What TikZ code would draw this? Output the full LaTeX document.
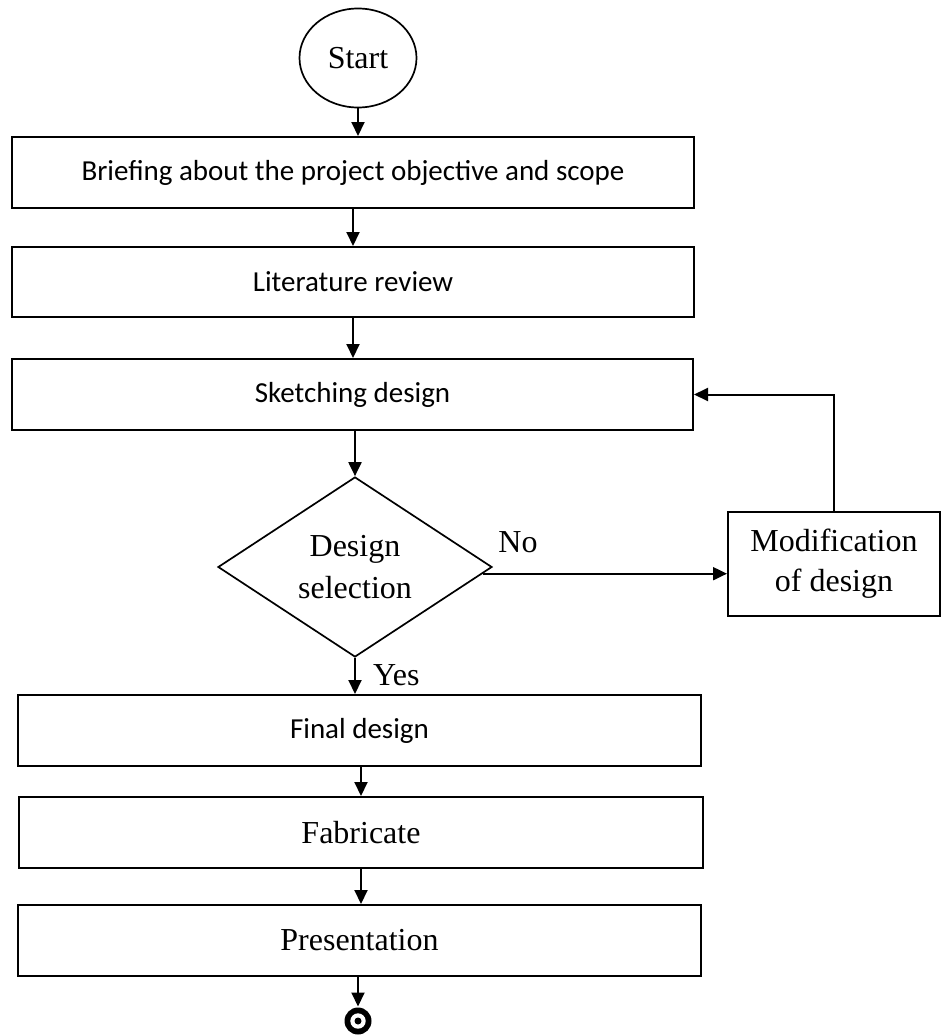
\documentclass[tikz,border=0pt]{standalone}
\usepackage{fontspec}
\setmainfont{Liberation Serif}
\newfontfamily\calibrifont{Carlito}
\usetikzlibrary{shapes.geometric,arrows.meta,calc}
\begin{document}
\begin{tikzpicture}[x=1pt,y=-1pt, line width=2pt,
  box/.style={draw, rectangle, inner sep=0pt, minimum height=71pt},
  cbox/.style={box, font=\calibrifont\fontsize{29}{35}\selectfont},
  tbox/.style={box, font=\fontsize{32}{38}\selectfont},
  arr/.style={-{Triangle[length=14pt,width=13pt]}, line width=2pt},
  lbl/.style={font=\fontsize{32}{38}\selectfont, inner sep=0pt}]
\useasboundingbox (0,0) rectangle (941,1036);
\node[draw, ellipse, minimum width=117pt, minimum height=99pt, inner sep=0pt,
      font=\fontsize{32}{38}\selectfont, line width=1.7pt] (start) at (358,58) {Start};
\node[cbox, minimum width=682pt] (b1) at (353,172.5) {Briefing about the project objective and scope};
\node[cbox, minimum width=682pt, minimum height=70pt] (b2) at (353,282) {Literature review};
\node[cbox, minimum width=681pt] (b3) at (352.5,394.5) {Sketching design};
\node[draw, diamond, minimum width=274pt, minimum height=180pt, inner sep=0pt, line width=1.7pt] (dec) at (355,567) {};
\node[lbl, align=center, font=\fontsize{32}{42}\selectfont] (dectext) at (355,567) {Design\\selection};
\node[box, minimum width=212pt, minimum height=104pt, align=center,
      font=\fontsize{32}{40}\selectfont] (mod) at (834,564) {Modification\\of design};
\node[cbox, minimum width=683pt] (fin) at (359.5,730.5) {Final design};
\node[tbox, minimum width=684pt] (fab) at (361,832.5) {Fabricate};
\node[tbox, minimum width=683pt] (pres) at (359.5,940.5) {Presentation};
\node[circle, fill=black, minimum size=27pt, inner sep=0pt] (end) at (358,1021) {};
\fill[white] (end.center) circle[radius=7.7pt];
\fill[black] (end.center) circle[radius=3.5pt];
\node[lbl] (no) at (518,542) {No};
\node[lbl, anchor=west] (yes) at (372,675) {Yes};
\draw[arr] (start.south) -- (start.south |- b1.north);
\draw[arr] (b1.south) -- (b1.south |- b2.north);
\draw[arr] (b2.south) -- (b2.south |- b3.north);
\draw[arr] (dec.north |- b3.south) -- (dec.north);
\draw[arr] (dec.-3) -- (dec.-3 -| mod.west);
\draw[arr] (mod.north) |- (b3.east);
\draw[arr] (dec.south) -- (dec.south |- fin.north);
\draw[arr] (fab.north |- fin.south) -- (fab.north);
\draw[arr] (fab.south) -- (fab.south |- pres.north);
\draw[arr] (end.north |- pres.south) -- (end.north);
\end{tikzpicture}
\end{document}
